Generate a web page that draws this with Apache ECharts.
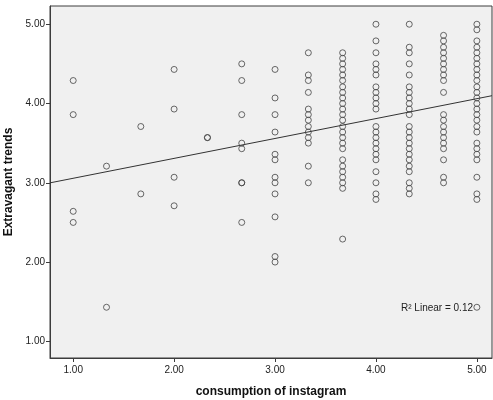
<!DOCTYPE html>
<html>
<head>
<meta charset="utf-8">
<script src="https://cdn.jsdelivr.net/npm/echarts@6/dist/echarts.min.js"></script>
<style>
  html, body { margin: 0; padding: 0; background: #fff; }
  #chart { width: 493px; height: 400px; }
</style>
</head>
<body>
<div id="chart"></div>
<script>
// x levels (consumption of instagram) and the y values observed at each level
var xLevels = [1.00, 1.33, 1.67, 2.00, 2.33, 2.67, 3.00, 3.33, 3.67, 4.00, 4.33, 4.67, 5.00];
var yByLevel = [
    [4.29, 3.86, 2.64, 2.50],
    [3.21, 1.43],
    [3.71, 2.86],
    [4.43, 3.93, 3.07, 2.71],
    [3.57, 3.57],
    [4.50, 4.29, 3.86, 3.50, 3.43, 3.00, 3.00, 2.50],
    [4.43, 4.07, 3.86, 3.64, 3.36, 3.29, 3.07, 3.00, 2.86, 2.57, 2.07, 2.00],
    [4.64, 4.36, 4.29, 4.14, 3.93, 3.86, 3.79, 3.71, 3.64, 3.57, 3.50, 3.21, 3.00],
    [4.64, 4.57, 4.50, 4.43, 4.36, 4.29, 4.21, 4.14, 4.07, 4.00, 3.93, 3.86, 3.79, 3.71, 3.64, 3.57, 3.50, 3.43,
        3.29, 3.21, 3.14, 3.07, 3.00, 2.93, 2.29],
    [5.00, 4.79, 4.64, 4.50, 4.43, 4.36, 4.21, 4.14, 4.07, 4.00, 3.93, 3.71, 3.64, 3.57, 3.50, 3.43, 3.36, 3.29,
        3.14, 3.00, 2.86, 2.79],
    [5.00, 4.71, 4.64, 4.50, 4.36, 4.21, 4.14, 4.07, 4.00, 3.93, 3.86, 3.71, 3.64, 3.57, 3.50, 3.43, 3.36, 3.29,
        3.21, 3.14, 3.00, 2.93, 2.86],
    [4.86, 4.79, 4.71, 4.64, 4.57, 4.50, 4.43, 4.36, 4.29, 4.14, 3.86, 3.79, 3.71, 3.64, 3.57, 3.50, 3.43, 3.29,
        3.07, 3.00],
    [5.00, 4.93, 4.79, 4.71, 4.64, 4.57, 4.50, 4.43, 4.36, 4.29, 4.21, 4.14, 4.07, 4.00, 3.93, 3.86, 3.79, 3.71,
        3.64, 3.50, 3.43, 3.36, 3.29, 3.07, 2.86, 2.79, 1.43]
];
var xTicks = [1, 2, 3, 4, 5];
var yTicks = [1, 2, 3, 4, 5];
// fit line: y = intercept + slope * x
var fitIntercept = 2.806;
var fitSlope = 0.251;
var rSquareText = 'R\u00b2 Linear = 0.12';

(function (window, document) {
    'use strict';
    var chartDom = document.getElementById('chart');
    var myChart = echarts.init(chartDom);
    var font = 'Arial, "Liberation Sans", sans-serif';
    var xMin = 0.77, xMax = 5.15;
    var yMin = 0.79, yMax = 5.23;

    var points = [];
    xLevels.forEach(function (x, i) {
        yByLevel[i].forEach(function (y) {
            points.push([x, y]);
        });
    });

    var fitLine = [
        [xMin, fitIntercept + fitSlope * xMin],
        [xMax, fitIntercept + fitSlope * xMax]
    ];

    function fmt(v) {
        return v.toFixed(2);
    }

    var axisCommon = {
        axisLine: { show: true, onZero: false, lineStyle: { color: '#3c3c3c', width: 1 } },
        axisTick: { show: true, length: 4, lineStyle: { color: '#3c3c3c' } },
        splitLine: { show: false },
        axisLabel: { color: '#222', fontSize: 10, fontFamily: font, formatter: fmt },
        nameLocation: 'middle',
        nameTextStyle: { color: '#111', fontSize: 12, fontWeight: 'bold', fontFamily: font }
    };

    var option = {
        animation: false,
        backgroundColor: '#fff',
        grid: {
            left: 50,
            top: 6,
            right: 1,
            bottom: 42,
            outerBoundsMode: 'none',
            show: true,
            backgroundColor: '#f0f0f0',
            borderColor: '#3c3c3c',
            borderWidth: 1
        },
        xAxis: echarts.util.merge({
            type: 'value',
            min: xMin,
            max: xMax,
            name: 'consumption of instagram',
            nameGap: 28,
            axisTick: { customValues: xTicks },
            axisLabel: { customValues: xTicks, margin: 7 }
        }, axisCommon),
        yAxis: echarts.util.merge({
            type: 'value',
            min: yMin,
            max: yMax,
            name: 'Extravagant trends',
            nameGap: 26,
            axisTick: { customValues: yTicks },
            axisLabel: { customValues: yTicks, margin: 5 }
        }, axisCommon),
        series: [{
            type: 'scatter',
            data: points,
            symbol: 'circle',
            symbolSize: 6,
            itemStyle: {
                color: 'rgba(0,0,0,0)',
                borderColor: '#444',
                borderWidth: 1
            },
            z: 3
        }, {
            type: 'line',
            data: fitLine,
            showSymbol: false,
            symbol: 'none',
            lineStyle: { color: '#333', width: 1 },
            z: 2
        }],
        graphic: [{
            type: 'text',
            right: 20,
            top: 303,
            style: {
                text: rSquareText,
                fill: '#222',
                font: '10px ' + font
            }
        }]
    };

    myChart.setOption(option);
})(window, document);
</script>
</body>
</html>
